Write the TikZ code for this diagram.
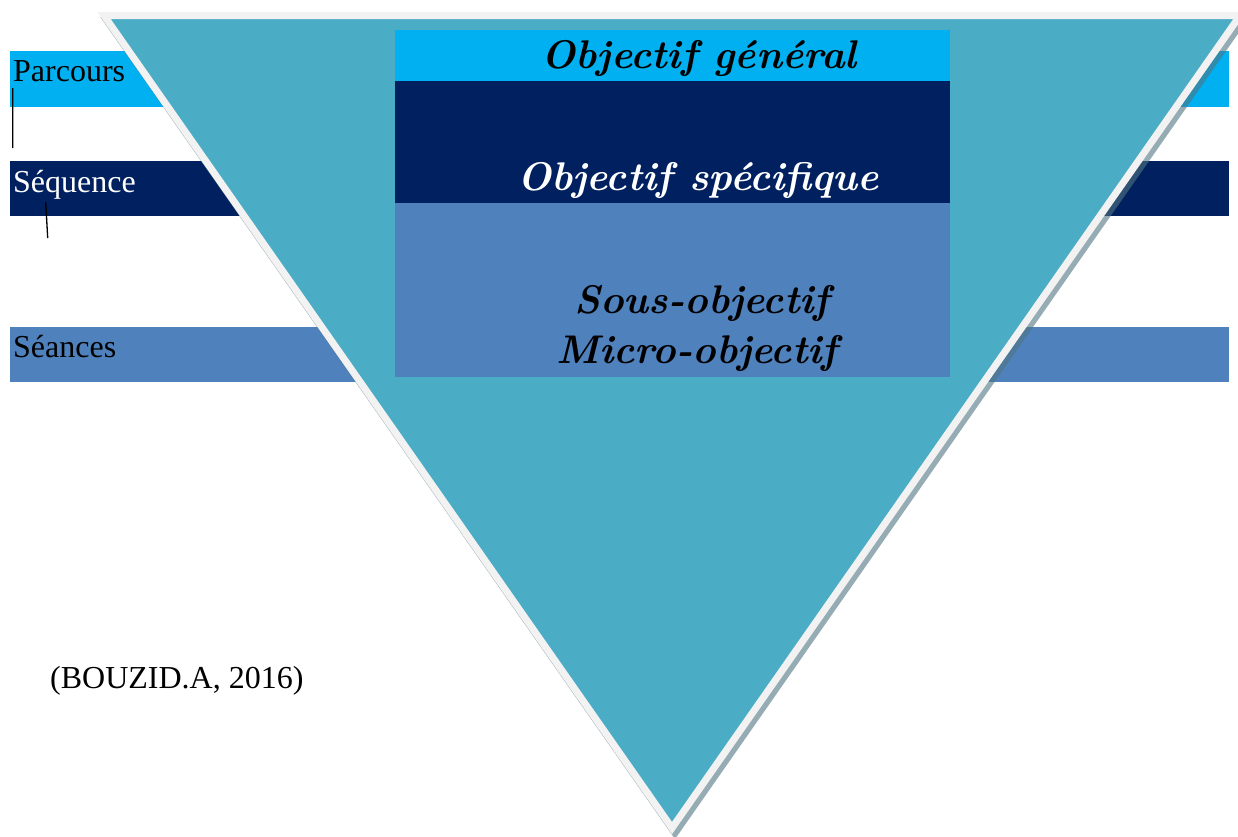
\documentclass[tikz,border=0pt]{standalone}
\usepackage{fontspec}
\newfontfamily\timesfont{Liberation Serif}
\usetikzlibrary{positioning}
\definecolor{ciel}{HTML}{00B0F0}
\definecolor{marine}{HTML}{002060}
\definecolor{acier}{HTML}{4F81BD}
\definecolor{turquoise}{HTML}{4BACC6}
\definecolor{bordure}{HTML}{F2F2F2}
\definecolor{ombre}{RGB}{80,117,130}
\tikzset{
  x=1pt, y=-1pt, % one unit for one pixel, y going down
  band/.style={inner sep=0pt, outer sep=0pt, anchor=north west, minimum width=1219, minimum height=56}, % the long strips behind the triangle
  block/.style={inner sep=0pt, outer sep=0pt, anchor=north west, minimum width=555}, % the boxes inside the triangle
  levellabel/.style={inner sep=0pt, anchor=base west, font=\timesfont\fontsize{32}{38}\selectfont}, % texts on the left
  objtext/.style={inner sep=0pt, anchor=base, font=\fontsize{40}{50}\selectfont\bfseries\itshape}, % objectives
}

\begin{document}
\begin{tikzpicture}
    \useasboundingbox (0,0) rectangle (1238,836);
    \clip (0,0) rectangle (1238,836);

    % strips
    \node[band, fill=ciel] (PARCOURS_BAND) at (10,51) {};
    \node[band, fill=marine, minimum height=55] (SEQUENCE_BAND) at (10,161) {};
    \node[band, fill=acier, minimum height=55] (SEANCES_BAND) at (10,327) {};

    % triangle
    \coordinate (TOP_LEFT) at (104,15.5);
    \coordinate (TOP_RIGHT) at (1240,15.5);
    \coordinate (APEX) at (672,828);
    \draw[ombre, draw opacity=0.6, line width=7pt, line join=miter]
        ([shift={(3,5)}]TOP_LEFT) -- ([shift={(3,5)}]TOP_RIGHT) -- ([shift={(3,5)}]APEX) -- cycle;
    \filldraw[fill=turquoise, draw=bordure, line width=7pt, line join=miter]
        (TOP_LEFT) -- (TOP_RIGHT) -- (APEX) -- cycle;

    % boxes
    \node[block, fill=ciel, minimum height=51] (GENERAL) at (395,30) {};
    \node[block, fill=marine, minimum height=122] (SPECIFIQUE) at (395,81) {};
    \node[block, fill=acier, minimum height=174] (SOUS) at (395,203) {};

    \node[objtext] (GENERAL_TEXT) at (699,68) {Objectif général};
    \node[objtext, text=white] (SPECIFIQUE_TEXT) at (698,190) {Objectif spécifique};
    \node[objtext] (SOUS_TEXT) at (702,313) {Sous-objectif};
    \node[objtext] (MICRO_TEXT) at (697,363) {Micro-objectif};

    % labels
    \node[levellabel] (PARCOURS) at (13,81) {Parcours};
    \node[levellabel, text=white] (SEQUENCE) at (13,192) {Séquence};
    \node[levellabel] (SEANCES) at (13,357) {Séances};
    \node[levellabel] (SOURCE) at (50,688) {(BOUZID.A, 2016)};

    % small strokes
    \coordinate (TICK_A) at (12.7,88);
    \coordinate (TICK_B) at (12.7,148);
    \coordinate (TICK_C) at (45.7,202);
    \coordinate (TICK_D) at (47.7,238);
    \draw[line width=1.3pt] (TICK_A) -- (TICK_B)
          (TICK_C) -- (TICK_D);
\end{tikzpicture}
\end{document}
